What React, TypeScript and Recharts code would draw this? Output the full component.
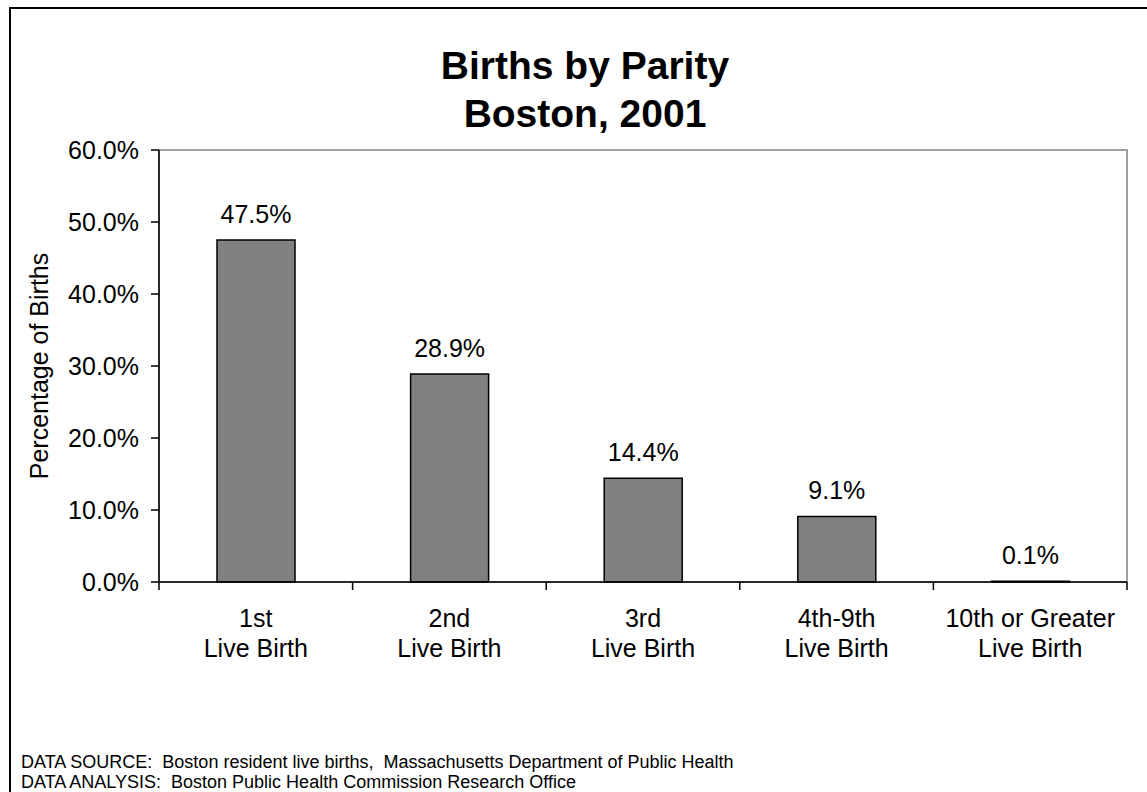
import { Bar, BarChart, LabelList, ReferenceArea, XAxis, YAxis } from "recharts";

const FONT = "'Liberation Sans', Arial, Helvetica, sans-serif";

const categories = [
  "1st\nLive Birth",
  "2nd\nLive Birth",
  "3rd\nLive Birth",
  "4th-9th\nLive Birth",
  "10th or Greater\nLive Birth",
];
const percentages = [47.5, 28.9, 14.4, 9.1, 0.1];
const yTicks = [0, 10, 20, 30, 40, 50, 60];

const titleLines = ["Births by Parity", "Boston, 2001"];
const yLabel = "Percentage of Births";
const notes = [
  "DATA SOURCE:  Boston resident live births,  Massachusetts Department of Public Health",
  "DATA ANALYSIS:  Boston Public Health Commission Research Office",
];

const rows = categories.map((name, i) => ({ name, value: percentages[i] }));

const fmt = (v: number) => `${Number(v).toFixed(1)}%`;

function CategoryTick(props: any) {
  const { x, y, payload, index, visibleTicksCount } = props;
  const half = payload?.offset ?? 96.8;
  const lines = String(payload.value).split("\n");
  return (
    <g>
      <line x1={x - half} x2={x - half} y1={y} y2={y + 8} stroke="#000" strokeWidth={1.5} />
      {index === visibleTicksCount - 1 && (
        <line x1={x + half} x2={x + half} y1={y} y2={y + 8} stroke="#000" strokeWidth={1.5} />
      )}
      {lines.map((t, i) => (
        <text
          key={i}
          x={x}
          y={y + 45 + i * 30}
          textAnchor="middle"
          fontSize={25}
          fontFamily={FONT}
          fill="#000"
        >
          {t}
        </text>
      ))}
    </g>
  );
}

function YTitle(props: any) {
  const vb = props.viewBox || {};
  const cx = vb.x + 30;
  const cy = vb.y + vb.height / 2;
  return (
    <text
      x={cx}
      y={cy}
      transform={`rotate(-90, ${cx}, ${cy})`}
      textAnchor="middle"
      dominantBaseline="central"
      fontSize={25}
      fontFamily={FONT}
      fill="#000"
    >
      {yLabel}
    </text>
  );
}

export default function App() {
  return (
    <div
      style={{
        position: "fixed",
        left: 0,
        top: 0,
        width: 1147,
        height: 792,
        overflow: "hidden",
        background: "#fff",
        fontFamily: FONT,
      }}
    >
      <div
        style={{
          position: "absolute",
          left: 9,
          top: 7,
          width: 2000,
          height: 2000,
          borderLeft: "2px solid #000",
          borderTop: "2px solid #000",
        }}
      />
      <BarChart
        width={1147}
        height={792}
        data={rows}
        margin={{ top: 150, right: 20, bottom: 110, left: 9 }}
        style={{ position: "absolute", left: 0, top: 0 }}
      >
        {/* plot frame (gray top/right edges, Excel style) */}
        <ReferenceArea y1={0} y2={60} fill="none" stroke="#a0a0a0" strokeWidth={2} />
        <XAxis
          dataKey="name"
          height={100}
          interval={0}
          tickSize={0}
          tickMargin={0}
          tickLine={false}
          axisLine={{ stroke: "#000", strokeWidth: 1.5 }}
          tick={<CategoryTick />}
        />
        <YAxis
          width={150}
          domain={[0, 60]}
          ticks={yTicks}
          tickFormatter={fmt}
          tickSize={8}
          tickMargin={12}
          tickLine={{ stroke: "#000", strokeWidth: 1.5 }}
          axisLine={{ stroke: "#000", strokeWidth: 1.5 }}
          tick={{ fill: "#000", fontSize: 25, fontFamily: FONT }}
          label={<YTitle />}
        />
        <Bar
          dataKey="value"
          fill="#808080"
          stroke="#000"
          strokeWidth={1.5}
          barSize={78}
          isAnimationActive={false}
        >
          <LabelList
            dataKey="value"
            position="top"
            offset={17}
            formatter={(v: any) => fmt(v)}
            fill="#000"
            fontSize={25}
            fontFamily={FONT}
          />
        </Bar>
      </BarChart>
      <div
        style={{
          position: "absolute",
          left: 385,
          top: 42,
          width: 400,
          textAlign: "center",
          fontSize: 39,
          lineHeight: "48px",
          fontWeight: "bold",
          color: "#000",
        }}
      >
        {titleLines.map((t) => (
          <div key={t}>{t}</div>
        ))}
      </div>
      <div
        style={{
          position: "absolute",
          left: 21,
          top: 753,
          fontSize: 18,
          lineHeight: "19.5px",
          color: "#000",
          whiteSpace: "pre",
        }}
      >
        {notes.map((t) => (
          <div key={t}>{t}</div>
        ))}
      </div>
    </div>
  );
}
